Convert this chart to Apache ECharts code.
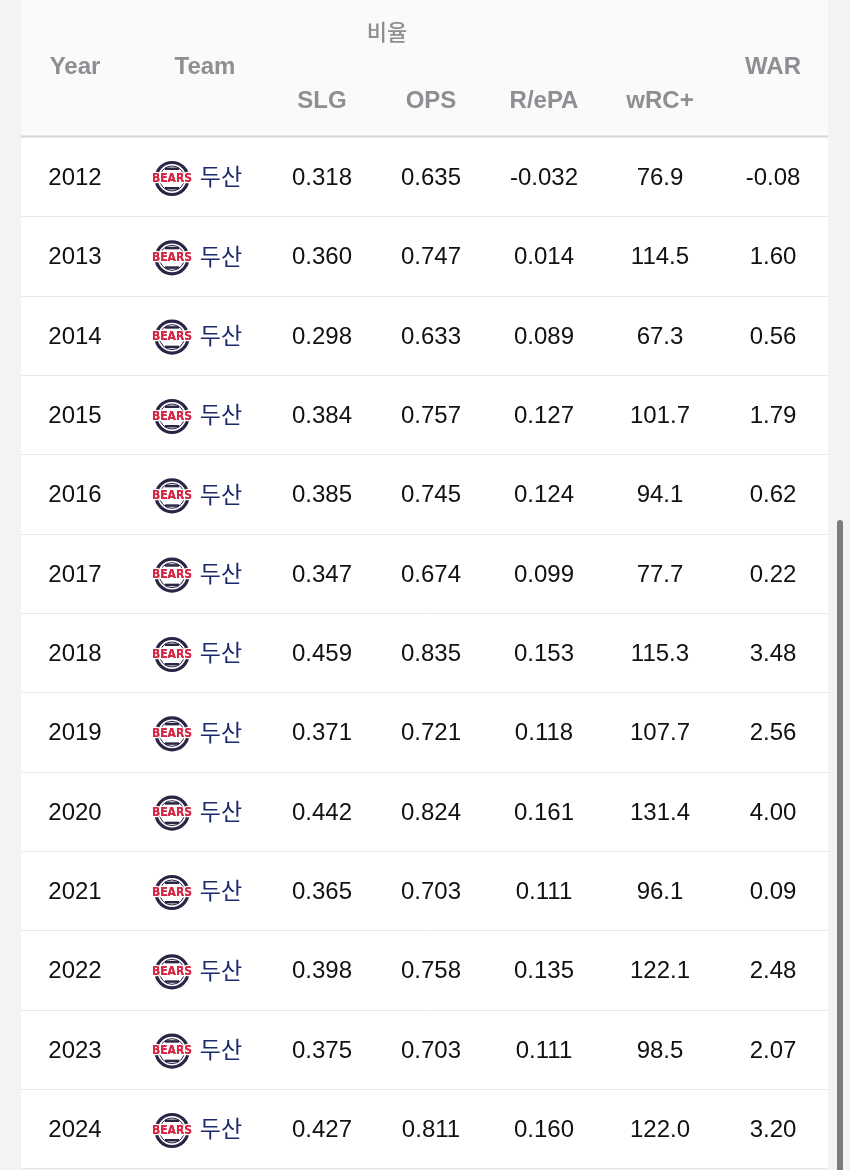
<!DOCTYPE html>
<html>
<head>
<meta charset="utf-8">
<script src="https://cdn.jsdelivr.net/npm/echarts@6/dist/echarts.min.js"></script>
<style>
html,body{margin:0;padding:0;background:#f3f3f5;}
#chart{width:850px;height:1170px;}
</style>
</head>
<body>
<div id="chart"></div>
<script>
// ---- data ----
const years = ['2012','2013','2014','2015','2016','2017','2018','2019','2020','2021','2022','2023','2024'];
const teamName = '두산';
const slg  = [0.318, 0.360, 0.298, 0.384, 0.385, 0.347, 0.459, 0.371, 0.442, 0.365, 0.398, 0.375, 0.427];
const ops  = [0.635, 0.747, 0.633, 0.757, 0.745, 0.674, 0.835, 0.721, 0.824, 0.703, 0.758, 0.703, 0.811];
const repa = [-0.032, 0.014, 0.089, 0.127, 0.124, 0.099, 0.153, 0.118, 0.161, 0.111, 0.135, 0.111, 0.160];
const wrc  = [76.9, 114.5, 67.3, 101.7, 94.1, 77.7, 115.3, 107.7, 131.4, 96.1, 122.1, 98.5, 122.0];
const war  = [-0.08, 1.60, 0.56, 1.79, 0.62, 0.22, 3.48, 2.56, 4.00, 0.09, 2.48, 2.07, 3.20];
const groupHeader = '비율';
const topHeaders = ['Year', 'Team', 'WAR'];
const subHeaders = ['SLG', 'OPS', 'R/ePA', 'wRC+'];

// ---- layout (horizontal column centres, in axis units) ----
const colX = [75, 205, 322, 431, 544, 660, 773];
const logoX = 172, teamTextX = 221;

const bodyFont = '"Liberation Sans", Arial, sans-serif';
const krFont = '"Noto Sans CJK KR", sans-serif';
const bodyColor = '#111113';
const headColor = '#8e8e93';

const chart = echarts.init(document.getElementById('chart'), null, {renderer: 'canvas'});

function renderRow(params, api) {
  const r = api.value(1);
  const y = api.coord([colX[0], r])[1] + 1.5;
  const X = v => api.coord([v, r])[0];
  const txt = (x, s, opts) => ({
    type: 'text',
    style: Object.assign({
      x: x, y: y, text: s, align: 'center', verticalAlign: 'middle',
      font: '24px ' + bodyFont, fill: bodyColor
    }, opts || {})
  });
  const lx = X(logoX), ly = y;
  const navy = '#2a2545';
  const bearsFont = 'bold 12px "DejaVu Sans Condensed", "Liberation Sans Narrow", sans-serif';
  const children = [
    txt(X(colX[0]), years[r]),
    { type: 'circle', shape: {cx: lx, cy: ly, r: 16}, style: {fill: '#fff', stroke: navy, lineWidth: 3.2} },
    { type: 'circle', shape: {cx: lx, cy: ly, r: 12.5}, style: {fill: 'none', stroke: navy, lineWidth: 1} },
    { type: 'rect', shape: {x: lx - 7, y: ly - 11, width: 14, height: 2.5}, style: {fill: navy} },
    { type: 'rect', shape: {x: lx - 7, y: ly + 8.5, width: 14, height: 2.5}, style: {fill: navy} },
    { type: 'text', style: {x: lx, y: ly, text: 'BEARS', align: 'center', verticalAlign: 'middle',
        font: bearsFont, fill: '#d42a45', stroke: '#fff', lineWidth: 2.5} },
    { type: 'text', style: {x: lx, y: ly, text: 'BEARS', align: 'center', verticalAlign: 'middle',
        font: bearsFont, fill: '#d42a45'} },
    txt(X(teamTextX), teamName, {font: '23px ' + krFont, fill: '#1b2a6e', y: y - 2}),
    txt(X(colX[2]), slg[r].toFixed(3)),
    txt(X(colX[3]), ops[r].toFixed(3)),
    txt(X(colX[4]), repa[r].toFixed(3)),
    txt(X(colX[5]), wrc[r].toFixed(1)),
    txt(X(colX[6]), war[r].toFixed(2))
  ];
  return { type: 'group', children: children };
}

const headerGraphics = [
  { type: 'rect', z: -10, shape: {x: 21, y: 0, width: 807, height: 136}, style: {fill: '#fafafa'} },
  { type: 'rect', z: -9, shape: {x: 21, y: 135.5, width: 807, height: 2}, style: {fill: '#d6d6d8'} },
  { type: 'text', style: {x: 387, y: 32, text: groupHeader, align: 'center', verticalAlign: 'middle', font: '500 22px ' + krFont, fill: headColor} },
  { type: 'text', style: {x: colX[0], y: 67, text: topHeaders[0], align: 'center', verticalAlign: 'middle', font: 'bold 24px ' + bodyFont, fill: headColor} },
  { type: 'text', style: {x: colX[1], y: 67, text: topHeaders[1], align: 'center', verticalAlign: 'middle', font: 'bold 24px ' + bodyFont, fill: headColor} },
  { type: 'text', style: {x: colX[6], y: 67, text: topHeaders[2], align: 'center', verticalAlign: 'middle', font: 'bold 24px ' + bodyFont, fill: headColor} },
  { type: 'rect', z: 10, shape: {x: 837, y: 520, width: 6, height: 660, r: 3}, style: {fill: '#7b7b7d'} }
];
subHeaders.forEach((h, i) => {
  headerGraphics.push({ type: 'text', style: {x: colX[i + 2], y: 101, text: h, align: 'center', verticalAlign: 'middle', font: 'bold 24px ' + bodyFont, fill: headColor} });
});

chart.setOption({
  backgroundColor: '#f3f3f5',
  animation: false,
  grid: { left: 21, width: 807, top: 137.33, height: 1031.33, show: true, backgroundColor: '#ffffff', borderWidth: 0 },
  xAxis: { type: 'value', min: 21, max: 828, show: false },
  yAxis: {
    type: 'category', data: years, inverse: true, boundaryGap: true,
    axisLine: {show: false}, axisTick: {show: false}, axisLabel: {show: false, interval: 0},
    splitLine: {show: true, interval: 0, lineStyle: {color: '#e8e8ea', width: 1}}
  },
  graphic: headerGraphics,
  series: [{
    type: 'custom',
    renderItem: renderRow,
    data: years.map((y, i) => [colX[0], i]),
    clip: false
  }]
});
</script>
</body>
</html>
